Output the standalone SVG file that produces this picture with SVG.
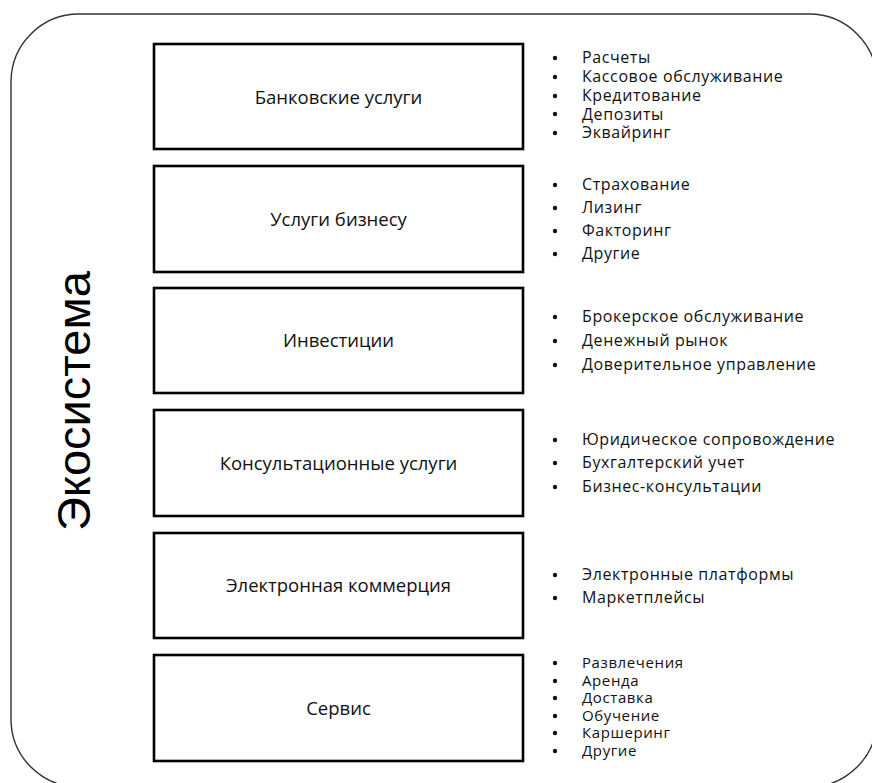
<svg xmlns="http://www.w3.org/2000/svg" width="872" height="783" viewBox="0 0 872 783">
<style>
.frame{fill:#fff;stroke:#333;stroke-width:1.4}
.box{fill:#fff;stroke:#000;stroke-width:2.6}
.lbl{font-family:"Open Sans","Liberation Sans",sans-serif;font-size:18.5px;fill:#111;text-anchor:middle}
.it{font-family:"Open Sans","Liberation Sans",sans-serif;font-size:16px;letter-spacing:0.6px;fill:#111}
.sm{font-size:15px}
.big{font-family:"Liberation Sans",Arial,sans-serif;font-size:47px;fill:#000;text-anchor:middle}
</style>
<defs>
<circle id="b" r="2.2" fill="#111"/>
</defs>
<rect class="frame" x="11" y="14" width="866" height="773" rx="68" ry="68"/>
<text class="big" transform="translate(90,401) rotate(-90)">Экосистема</text>
<g id="connectors"></g>
<g id="n1">
<rect class="box" x="154" y="44" width="369" height="105"/>
<text class="lbl" x="338.5" y="104">Банковские услуги</text>
<use href="#b" x="555" y="58"/><text class="it" x="582" y="63">Расчеты</text>
<use href="#b" x="555" y="77"/><text class="it" x="582" y="82">Кассовое обслуживание</text>
<use href="#b" x="555" y="96"/><text class="it" x="582" y="101">Кредитование</text>
<use href="#b" x="555" y="114"/><text class="it" x="582" y="119.5">Депозиты</text>
<use href="#b" x="555" y="133"/><text class="it" x="582" y="138">Эквайринг</text>
</g>
<g id="n2">
<rect class="box" x="154" y="166" width="369" height="106"/>
<text class="lbl" x="338.5" y="226">Услуги бизнесу</text>
<use href="#b" x="555" y="185"/><text class="it" x="582" y="190">Страхование</text>
<use href="#b" x="555" y="208"/><text class="it" x="582" y="213">Лизинг</text>
<use href="#b" x="555" y="231"/><text class="it" x="582" y="236">Факторинг</text>
<use href="#b" x="555" y="254"/><text class="it" x="582" y="259">Другие</text>
</g>
<g id="n3">
<rect class="box" x="154" y="288" width="369" height="105"/>
<text class="lbl" x="338.5" y="347">Инвестиции</text>
<use href="#b" x="555" y="317"/><text class="it" x="582" y="322">Брокерское обслуживание</text>
<use href="#b" x="555" y="341"/><text class="it" x="582" y="346">Денежный рынок</text>
<use href="#b" x="555" y="365"/><text class="it" x="582" y="370">Доверительное управление</text>
</g>
<g id="n4">
<rect class="box" x="154" y="410" width="369" height="106"/>
<text class="lbl" x="338.5" y="470">Консультационные услуги</text>
<use href="#b" x="555" y="440"/><text class="it" x="582" y="445">Юридическое сопровождение</text>
<use href="#b" x="555" y="463"/><text class="it" x="582" y="468">Бухгалтерский учет</text>
<use href="#b" x="555" y="487"/><text class="it" x="582" y="492">Бизнес-консультации</text>
</g>
<g id="n5">
<rect class="box" x="154" y="533" width="369" height="105"/>
<text class="lbl" x="338.5" y="592">Электронная коммерция</text>
<use href="#b" x="555" y="575"/><text class="it" x="582" y="580">Электронные платформы</text>
<use href="#b" x="555" y="598"/><text class="it" x="582" y="603">Маркетплейсы</text>
</g>
<g id="n6">
<rect class="box" x="154" y="655" width="369" height="106"/>
<text class="lbl" x="338.5" y="715">Сервис</text>
<use href="#b" x="555" y="663"/><text class="it sm" x="582" y="668">Развлечения</text>
<use href="#b" x="555" y="681"/><text class="it sm" x="582" y="686">Аренда</text>
<use href="#b" x="555" y="698"/><text class="it sm" x="582" y="703">Доставка</text>
<use href="#b" x="555" y="716"/><text class="it sm" x="582" y="721">Обучение</text>
<use href="#b" x="555" y="733"/><text class="it sm" x="582" y="738">Каршеринг</text>
<use href="#b" x="555" y="751"/><text class="it sm" x="582" y="756">Другие</text>
</g>
</svg>
